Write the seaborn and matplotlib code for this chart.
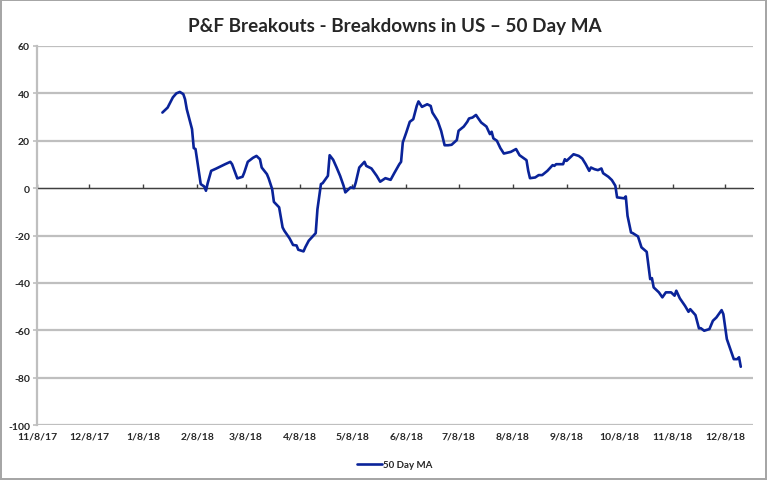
import pandas as pd
import matplotlib.pyplot as plt
import seaborn as sns

# data
dates = [
    "2018-01-19", "2018-01-22", "2018-01-25", "2018-01-27", "2018-01-29", "2018-01-31",
    "2018-02-01", "2018-02-02", "2018-02-05", "2018-02-06", "2018-02-07", "2018-02-08",
    "2018-02-10", "2018-02-12", "2018-02-13", "2018-02-14", "2018-02-16", "2018-02-19",
    "2018-02-22", "2018-02-24", "2018-02-27", "2018-02-28", "2018-03-03", "2018-03-06",
    "2018-03-07", "2018-03-09", "2018-03-12", "2018-03-14", "2018-03-16", "2018-03-17",
    "2018-03-20", "2018-03-21", "2018-03-23", "2018-03-24", "2018-03-27", "2018-03-29",
    "2018-03-30", "2018-04-02", "2018-04-04", "2018-04-06", "2018-04-07", "2018-04-10",
    "2018-04-11", "2018-04-13", "2018-04-17", "2018-04-18", "2018-04-20", "2018-04-21",
    "2018-04-24", "2018-04-25", "2018-04-27", "2018-04-29", "2018-05-01", "2018-05-03",
    "2018-05-04", "2018-05-07", "2018-05-09", "2018-05-10", "2018-05-12", "2018-05-15",
    "2018-05-16", "2018-05-19", "2018-05-22", "2018-05-24", "2018-05-27", "2018-05-30",
    "2018-06-01", "2018-06-04", "2018-06-05", "2018-06-06", "2018-06-08", "2018-06-10",
    "2018-06-12", "2018-06-14", "2018-06-15", "2018-06-17", "2018-06-20", "2018-06-22",
    "2018-06-23", "2018-06-26", "2018-06-28", "2018-06-30", "2018-07-02", "2018-07-04",
    "2018-07-07", "2018-07-08", "2018-07-11", "2018-07-13", "2018-07-14", "2018-07-16",
    "2018-07-18", "2018-07-19", "2018-07-21", "2018-07-24", "2018-07-26", "2018-07-27",
    "2018-07-28", "2018-07-30", "2018-08-01", "2018-08-03", "2018-08-07", "2018-08-10",
    "2018-08-12", "2018-08-16", "2018-08-17", "2018-08-18", "2018-08-21", "2018-08-23",
    "2018-08-25", "2018-08-28", "2018-08-31", "2018-09-01", "2018-09-02", "2018-09-06",
    "2018-09-07", "2018-09-08", "2018-09-12", "2018-09-15", "2018-09-17", "2018-09-19",
    "2018-09-21", "2018-09-22", "2018-09-24", "2018-09-26", "2018-09-28", "2018-09-29",
    "2018-10-02", "2018-10-04", "2018-10-06", "2018-10-07", "2018-10-11", "2018-10-12",
    "2018-10-13", "2018-10-15", "2018-10-16", "2018-10-19", "2018-10-21", "2018-10-24",
    "2018-10-26", "2018-10-27", "2018-10-28", "2018-10-31", "2018-11-02", "2018-11-04",
    "2018-11-07", "2018-11-09", "2018-11-10", "2018-11-12", "2018-11-15", "2018-11-17",
    "2018-11-18", "2018-11-21", "2018-11-23", "2018-11-24", "2018-11-26", "2018-11-29",
    "2018-12-01", "2018-12-03", "2018-12-06", "2018-12-07", "2018-12-09", "2018-12-11",
    "2018-12-13", "2018-12-15", "2018-12-16", "2018-12-17",
]
ma50 = [
    31.9, 34.0, 38.3, 40.0, 40.6, 39.7,
    37.5, 33.3, 24.9, 16.9, 16.5, 11.5,
    1.7, 0.7, -1.1, 2.1, 7.3, 8.3,
    9.4, 10.1, 11.1, 10.1, 4.1, 4.8,
    6.6, 11.1, 12.8, 13.6, 12.2, 8.7,
    5.9, 4.1, -0.4, -5.8, -8.1, -16.6,
    -18.0, -21.2, -24.0, -24.2, -26.0, -26.7,
    -25.0, -22.2, -19.0, -8.9, 1.7, 2.1,
    5.2, 13.9, 12.0, 8.7, 5.2, 1.0,
    -1.8, 0.3, 0.0, 2.4, 8.7, 11.1,
    9.4, 8.3, 5.2, 2.7, 4.2, 3.5,
    6.2, 10.1, 11.1, 19.3, 23.5, 28.0,
    29.1, 34.7, 36.6, 34.3, 35.4, 34.7,
    31.9, 28.4, 24.2, 18.1, 18.1, 18.3,
    20.3, 24.2, 26.0, 28.0, 29.4, 29.8,
    30.9, 29.8, 27.7, 26.0, 22.8, 23.8,
    21.0, 20.0, 16.9, 14.6, 15.3, 16.5,
    13.9, 11.8, 7.3, 4.2, 4.5, 5.5,
    5.5, 7.3, 9.7, 9.4, 10.1, 10.1,
    12.2, 11.5, 14.3, 13.6, 12.5, 10.1,
    7.3, 8.7, 8.0, 7.6, 8.3, 6.3,
    4.8, 3.4, 1.0, -3.9, -4.3, -3.5,
    -11.7, -18.7, -19.0, -20.4, -25.0, -26.9,
    -38.4, -38.0, -41.9, -44.0, -46.1, -44.0,
    -44.0, -45.4, -43.3, -46.5, -49.7, -52.2,
    -51.1, -53.6, -59.2, -59.1, -60.2, -59.5,
    -56.0, -54.6, -51.5, -53.2, -63.7, -67.9,
    -72.2, -72.2, -71.4, -75.4,
]
tick_dates = pd.date_range("2017-11-08", "2018-12-08", freq=pd.DateOffset(months=1))
y_ticks = [60, 40, 20, 0, -20, -40, -60, -80, -100]

df = pd.DataFrame({"Date": pd.to_datetime(dates), "50 Day MA": ma50})

sns.set_style("white")
plt.rcParams["font.family"] = ["Lato", "DejaVu Sans"]

fig = plt.figure(figsize=(7.67, 4.81), dpi=100)
fig.patch.set_edgecolor("#A6A6A6")
fig.patch.set_linewidth(1.5)
ax = fig.add_axes([0.0482, 0.1143, 0.9335, 0.788])

grid_c = "#BFBFBF"
for v in y_ticks:
    if v != 0:
        ax.axhline(v, color=grid_c, lw=1.6, zorder=0)
ax.axhline(0, color="#404040", lw=1.0, zorder=1)

sns.lineplot(data=df, x="Date", y="50 Day MA", color="#0A2399", lw=1.9,
             label="50 Day MA", ax=ax, zorder=3)

ax.set_ylim(-100, 60)
ax.set_xlim(pd.Timestamp("2017-11-08"), pd.Timestamp("2018-12-24"))
ax.set_yticks(y_ticks)
ax.set_yticklabels([str(v) for v in y_ticks], fontsize=7.5, fontweight="bold")
ax.set_xticks(tick_dates)
ax.set_xticklabels([f"{d.month}/{d.day}/{d:%y}" for d in tick_dates],
                   fontsize=7.5, fontweight="bold")
ax.tick_params(axis="x", length=0, pad=5)
ax.tick_params(axis="y", length=3, color=grid_c, width=1.2, pad=2, left=True)
ax.set_xlabel("")
ax.set_ylabel("")
for s in ["top", "right", "bottom"]:
    ax.spines[s].set_visible(False)
ax.spines["left"].set_color(grid_c)
ax.spines["left"].set_linewidth(1.6)

# month tick marks on the zero line
sec = ax.secondary_xaxis(100 / 160)
sec.set_xticks(tick_dates)
sec.set_xticklabels([])
sec.tick_params(axis="x", length=3, width=1, color="#404040", direction="out")
sec.spines["bottom"].set_visible(False)

ax.set_title("P&F Breakouts - Breakdowns in US \u2013 50 Day MA", fontsize=13.6,
             fontweight="bold", pad=11)
ax.legend(loc="upper center", bbox_to_anchor=(0.5, -0.07), frameon=False,
          prop={"size": 7, "weight": "bold"}, handlelength=2.6, handletextpad=0.1)

fig.savefig("out.png", dpi=100)
